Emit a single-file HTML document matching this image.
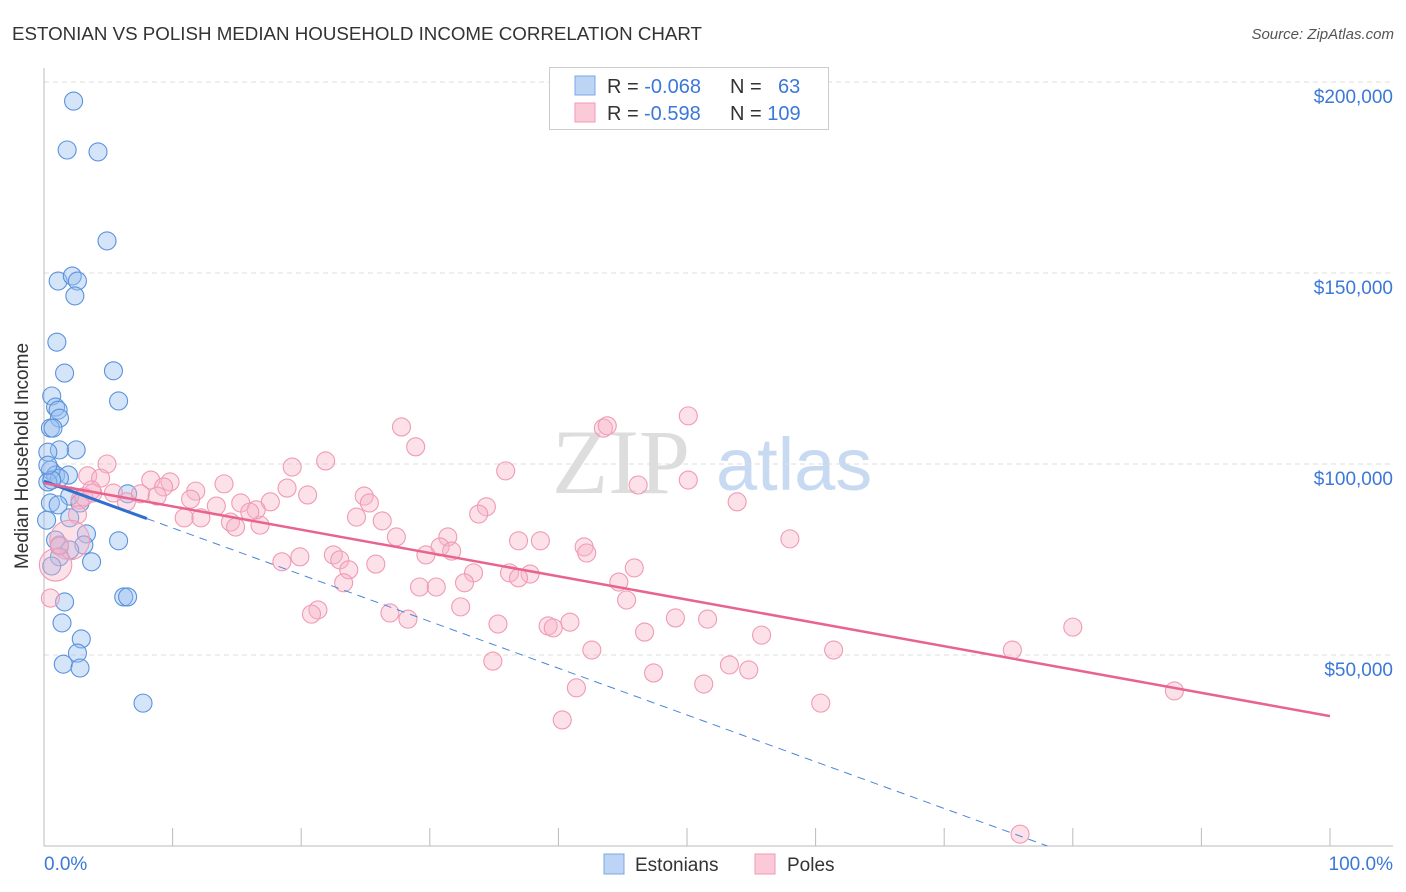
<!DOCTYPE html>
<html><head><meta charset="utf-8"><style>
body{margin:0;background:#fff;font-family:"Liberation Sans",sans-serif;}
svg{display:block}
</style></head><body>
<svg id="chart" width="1406" height="892">
<text x="12" y="40" font-size="18" fill="#333" textLength="690" lengthAdjust="spacingAndGlyphs">ESTONIAN VS POLISH MEDIAN HOUSEHOLD INCOME CORRELATION CHART</text>
<text x="1394" y="39" font-size="15" fill="#555" font-style="italic" text-anchor="end">Source: ZipAtlas.com</text>
<g>
<text x="552" y="493" font-size="92" font-family="Liberation Serif,serif" fill="#ddd">ZIP</text>
<text x="716" y="490" font-size="74" fill="#c8daf2">atlas</text>
</g>
<g id="grid"></g>
<g id="axes"></g>
<g id="pts"></g>
<g id="trends"></g>
<text x="28" y="456" font-size="19" fill="#333" text-anchor="middle" transform="rotate(-90 28 456)">Median Household Income</text>
<text x="44" y="870" font-size="19" fill="#3b78d8">0.0%</text>
<text x="1393" y="870" font-size="19" fill="#3b78d8" text-anchor="end">100.0%</text>
<g>
<rect x="549.5" y="67.5" width="279" height="62" fill="#fff" stroke="#ccc"/>
<rect x="575" y="76" width="20" height="19" fill="#bcd5f5" stroke="#7aa7e6"/>
<rect x="575" y="103" width="20" height="19" fill="#fbc9d8" stroke="#f09ab5"/>
<text x="607" y="93" font-size="20" fill="#333">R = <tspan fill="#3b78d8">-0.068</tspan></text>
<text x="730" y="93" font-size="20" fill="#333">N = <tspan fill="#3b78d8" x="778">63</tspan></text>
<text x="607" y="120" font-size="20" fill="#333">R = <tspan fill="#3b78d8" x="644">-0.598</tspan></text>
<text x="730" y="120" font-size="20" fill="#333">N = <tspan fill="#3b78d8">109</tspan></text>
</g>
<g>
<rect x="604" y="854" width="20" height="20" fill="#bcd5f5" stroke="#7aa7e6"/>
<text x="635" y="871" font-size="19" fill="#333">Estonians</text>
<rect x="755" y="854" width="20" height="20" fill="#fbc9d8" stroke="#f09ab5"/>
<text x="787" y="871" font-size="19" fill="#333">Poles</text>
</g>
</svg>
<script>
const yTicks=[50000,100000,150000,200000];
const yTickLabels=["$50,000","$100,000","$150,000","$200,000"];
const xTicks=[0,10,20,30,40,50,60,70,80,90,100];
const estX=[2.3,1.8,4.2,4.9,1.1,2.2,2.6,2.4,1.0,5.4,1.6,5.8,0.6,0.9,1.1,1.2,0.5,0.7,2.5,1.2,0.3,0.5,0.9,1.9,1.2,0.3,2.0,2.8,0.5,1.1,6.5,0.2,2.0,0.9,3.3,3.1,5.8,1.2,2.0,1.2,3.7,0.6,6.2,6.5,1.6,1.4,2.9,2.6,1.5,2.8,7.7,0.6,0.3];
const estY=[195.0,182.2,181.7,158.4,147.9,149.2,147.9,144.0,131.9,124.4,123.8,116.5,117.8,114.9,114.1,112.0,109.4,109.4,103.7,103.7,103.1,98.4,97.1,97.1,96.3,95.3,91.6,89.8,89.8,89.3,92.2,85.3,85.9,80.1,81.7,78.8,79.9,78.5,77.5,75.7,74.4,73.3,65.2,65.2,63.9,58.4,54.2,50.5,47.6,46.6,37.4,95.8,99.7];
const polX=[50.1,43.5,43.8,27.8,28.9,35.9,19.3,21.9,4.9,3.4,4.4,8.3,9.8,9.3,14.0,18.9,50.1,46.2,11.8,20.5,24.9,25.3,17.6,15.3,11.4,13.4,6.4,7.5,8.8,5.4,2.8,3.8,34.4,33.8,53.9,10.9,12.2,14.5,14.9,16.8,16.5,16.0,24.3,26.3,27.4,31.4,36.9,38.6,58.0,42.0,42.2,30.8,31.7,29.7,22.5,19.9,23.0,18.5,25.8,23.7,45.9,33.4,36.2,37.8,36.9,44.7,23.3,32.7,29.2,30.5,45.3,32.4,21.3,20.8,26.9,28.3,35.3,40.9,39.2,39.6,49.1,51.6,46.7,55.8,80.0,75.3,61.4,42.6,53.3,34.9,54.8,47.4,51.3,41.4,87.9,60.4,40.3,75.9,3.1,2.6,2.0,0.9,0.5,1.2,3.7];
const polY=[112.6,109.4,110.0,109.7,104.5,98.2,99.2,100.8,100.0,96.9,96.3,95.8,95.3,94.0,94.8,93.7,95.8,94.5,92.9,91.9,91.6,89.8,90.1,89.8,90.8,89.0,90.1,92.2,91.6,92.4,90.6,92.4,88.8,86.9,90.1,85.9,85.9,84.8,83.5,84.0,88.0,87.4,86.1,85.1,80.9,80.9,79.9,79.9,80.4,78.3,76.7,78.3,77.2,76.2,76.2,75.7,74.9,74.4,73.8,72.3,72.8,71.5,71.5,71.2,70.2,69.1,68.9,68.9,67.8,67.8,64.4,62.6,61.8,60.7,61.0,59.4,58.1,58.6,57.6,57.1,59.7,59.4,56.0,55.2,57.3,51.3,51.3,51.3,47.4,48.4,46.1,45.3,42.4,41.4,40.6,37.4,33.0,3.1,91.4,86.7,80.1,73.6,64.9,78.8,93.2];
const polSize=polX.map((v,i)=>i===polX.length-4?1.8:(i===polX.length-5?2.2:1));
const estTrend=[95.5,-1.224];
const polTrend=[95.0,-0.61];
const NS="http://www.w3.org/2000/svg";
const X=p=>44+p*12.86;
const Y=k=>846-k*1000*191/50000;
function mk(tag,attrs,parent){const e=document.createElementNS(NS,tag);for(const a in attrs)e.setAttribute(a,attrs[a]);parent.appendChild(e);return e;}
const grid=document.getElementById('grid'),axes=document.getElementById('axes'),pts=document.getElementById('pts'),tr=document.getElementById('trends');
yTicks.forEach((t,i)=>{
 const y=Y(t/1000);
 const l=mk('line',{x1:44,x2:1393,y1:y,y2:y,stroke:'#ddd','stroke-dasharray':'5,4'},grid);
 
 
 const tx=mk('text',{x:1393,y:y+21,'font-size':19,fill:'#3b78d8','text-anchor':'end'},grid);
 tx.textContent=yTickLabels[i];
 
 
});
let a=mk('line',{x1:44,x2:44,y1:68,y2:846,stroke:'#bbb'},axes);


a=mk('line',{x1:44,x2:1393,y1:846,y2:846,stroke:'#bbb'},axes);


xTicks.forEach(t=>{
 const tk=mk('line',{x1:X(t),x2:X(t),y1:846,y2:828,stroke:'#bbb'},axes);
 
 
});
estX.forEach((x,i)=>{
 const c=mk('circle',{cx:X(x),cy:Y(estY[i]),r:9,fill:'rgba(150,190,240,0.4)',stroke:'#5a92dc','stroke-width':1.1},pts);
 
 
});
polX.forEach((x,i)=>{
 const c=mk('circle',{cx:X(x),cy:Y(polY[i]),r:9*polSize[i],fill:'rgba(248,180,200,0.4)',stroke:'#f09ab5','stroke-width':1.1},pts);
 
 
});
const ef=x=>estTrend[0]+estTrend[1]*x, pf=x=>polTrend[0]+polTrend[1]*x;
const ez=-estTrend[0]/estTrend[1];
let t=mk('line',{x1:X(8),y1:Y(ef(8)),x2:X(ez),y2:Y(0),stroke:'#4a86d8','stroke-width':1,'stroke-dasharray':'8,6'},tr);


t=mk('line',{x1:X(0),y1:Y(ef(0)),x2:X(8),y2:Y(ef(8)),stroke:'#2f6fd0','stroke-width':3},tr);


t=mk('line',{x1:X(0),y1:Y(pf(0)),x2:X(100),y2:Y(pf(100)),stroke:'#e8648f','stroke-width':2.5},tr);


</script>
</body></html>
